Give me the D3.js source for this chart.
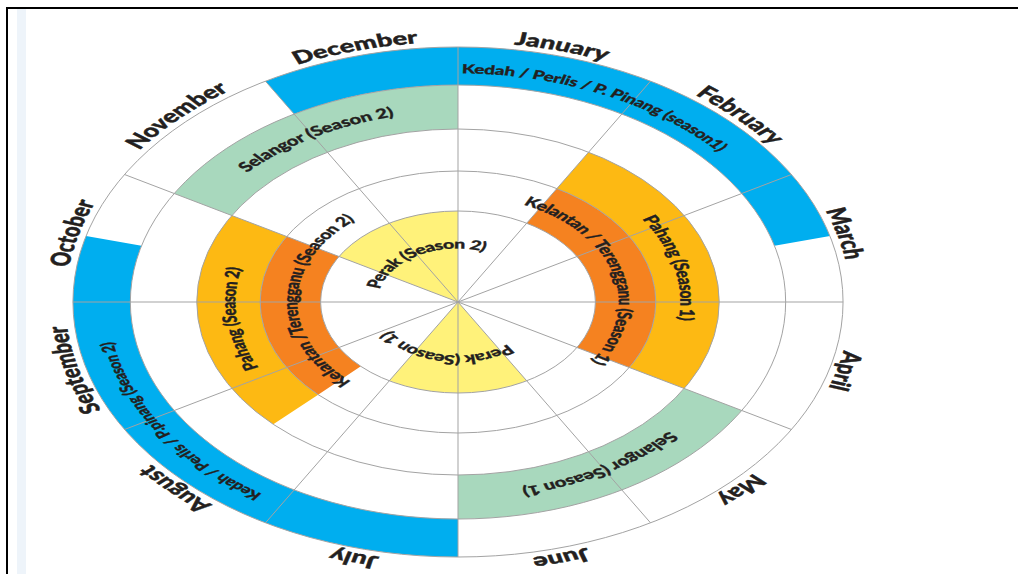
<!DOCTYPE html>
<html>
<head>
<meta charset="utf-8">
<script src="https://cdn.jsdelivr.net/npm/d3@7"></script>
<style>
  body { margin: 0; background: #fff; }
  svg { display: block; }
</style>
</head>
<body>
<script>
// Rice planting calendar - seasons per state, drawn as rings over the 12 months

var months = ["January", "February", "March", "April", "May", "June",
  "July", "August", "September", "October", "November", "December"];

// rings from the centre outwards
var rings = ["Perak", "Kelantan / Terengganu", "Pahang", "Selangor", "Kedah / Perlis / P. Pinang"];

var seasonLabels = [
  "Kedah / Perlis / P. Pinang  (season1)",
  "Kedah / Perlis / P.pinang (Season 2)",
  "Selangor (Season 2)",
  "Selangor (Season  1)",
  "Pahang (Season 1)",
  "Pahang (Season  2)",
  "Kelantan / Terengganu (Season 1)",
  "Kelantan /Terengganu (Season  2)",
  "Perak (Season  2)",
  "Perak (Season  1)"
];
var seasonRing = [4, 4, 3, 3, 2, 2, 1, 1, 0, 0];
// start / end in months counted from 1 January (Dec 1 = -1)
var seasonStart = [-1, 6, 10, 4, 1, 7.5, 1, 7.5, 10, 5];
var seasonEnd = [2.5, 9.5, 12, 6, 4, 10, 4, 10, 12, 7];

// layout
var svgWidth = 1018;
var svgHeight = 574;
var cx = 458, cy = 302;
var stretchX = 1.51;   // the picture is a circle pulled wide
var ringEdges = [0, 91, 131, 173, 217, 255];
var labelShift = [0.08, 0.15, 0, 0, 0.05, 0.03, -0.03, 0.28, 0.05, 0.33];
var labelSize = [12.5, 12, 13.5, 13.5, 13.5, 13, 13, 13, 13, 13];

var svg = d3.select("body")
  .append("svg")
  .attr("width", svgWidth)
  .attr("height", svgHeight);

svg.append("rect")
  .attr("width", svgWidth)
  .attr("height", svgHeight)
  .attr("fill", "#fff");

// frame bits of the screenshot
svg.append("rect").attr("x", 17).attr("y", 9).attr("width", 9).attr("height", svgHeight).attr("fill", "#eef4fa");
svg.append("line").attr("x1", 6).attr("x2", svgWidth).attr("y1", 8).attr("y2", 8)
  .attr("stroke", "#000").attr("stroke-width", 2);
svg.append("line").attr("x1", 7).attr("x2", 7).attr("y1", 7).attr("y2", svgHeight)
  .attr("stroke", "#000").attr("stroke-width", 2);

var chartGroup = svg.append("g")
  .attr("transform", `translate(${cx}, ${cy}) scale(${stretchX}, 1)`);

var angleScale = d3.scaleLinear().domain([0, 12]).range([0, 2 * Math.PI]);
var radiusScale = d3.scaleLinear().domain(d3.range(ringEdges.length)).range(ringEdges);
var colorScale = d3.scaleOrdinal()
  .domain(rings)
  .range(["#fff27a", "#f58220", "#fdb913", "#a8d8bd", "#00aeef"]);

var seasons = seasonLabels.map(function(label, i) {
  return {
    label: label,
    ring: seasonRing[i],
    start: seasonStart[i],
    end: seasonEnd[i],
    shift: labelShift[i],
    size: labelSize[i]
  };
});

var arc = d3.arc()
  .innerRadius(d => radiusScale(d.ring))
  .outerRadius(d => radiusScale(d.ring + 1))
  .startAngle(d => angleScale(d.start))
  .endAngle(d => angleScale(d.end));

chartGroup.selectAll(".season")
  .data(seasons)
  .enter()
  .append("path")
  .attr("class", "season")
  .attr("d", arc)
  .attr("fill", d => colorScale(rings[d.ring]));

// grid: ring circles and month spokes
var outerR = radiusScale(rings.length);

chartGroup.selectAll(".ringline")
  .data(ringEdges.slice(1))
  .enter()
  .append("circle")
  .attr("class", "ringline")
  .attr("r", d => d)
  .attr("fill", "none")
  .attr("stroke", "#a3a3a3")
  .attr("stroke-width", 1)
  .attr("vector-effect", "non-scaling-stroke");

chartGroup.selectAll(".spoke")
  .data(months)
  .enter()
  .append("line")
  .attr("class", "spoke")
  .attr("x2", (d, i) => outerR * Math.sin(angleScale(i)))
  .attr("y2", (d, i) => -outerR * Math.cos(angleScale(i)))
  .attr("stroke", "#a3a3a3")
  .attr("stroke-width", 1)
  .attr("vector-effect", "non-scaling-stroke");

// full circle path that has its middle at angle "mid", for centred textPath
function circlePath(r, mid) {
  var p = d3.path();
  var a0 = mid - Math.PI - Math.PI / 2;
  p.arc(0, 0, r, a0, a0 + 2 * Math.PI - 1e-4);
  return p.toString();
}

var defs = svg.append("defs");

// season labels
seasons.forEach(function(d, i) {
  var r = d.ring === 0 ? 58 : (radiusScale(d.ring) + radiusScale(d.ring + 1)) / 2;
  if (d.ring === 4 && i === 0) r -= 3;
  var mid = angleScale((d.start + d.end) / 2 + d.shift);
  defs.append("path")
    .attr("id", "sp" + i)
    .attr("d", circlePath(r, mid));
  chartGroup.append("text")
    .attr("dy", "0.35em")
    .attr("font-family", "Lato, 'Open Sans', sans-serif")
    .attr("font-weight", 900)
    .attr("font-size", d.size)
    .attr("fill", "#231f20")
    .attr("stroke", "#231f20")
    .attr("stroke-width", 0.3)
    .append("textPath")
    .attr("href", "#sp" + i)
    .attr("startOffset", "50%")
    .attr("text-anchor", "middle")
    .text(d.label);
});

// month labels outside the wheel
months.forEach(function(m, i) {
  defs.append("path")
    .attr("id", "mp" + i)
    .attr("d", circlePath(outerR + 5, angleScale(i + 0.5)));
  chartGroup.append("text")
    .attr("font-family", "Lato, 'Open Sans', sans-serif")
    .attr("font-weight", 900)
    .attr("font-size", 18)
    .attr("fill", "#231f20")
    .attr("stroke", "#231f20")
    .attr("stroke-width", 0.4)
    .append("textPath")
    .attr("href", "#mp" + i)
    .attr("startOffset", "50%")
    .attr("text-anchor", "middle")
    .text(m);
});
</script>
</body>
</html>
